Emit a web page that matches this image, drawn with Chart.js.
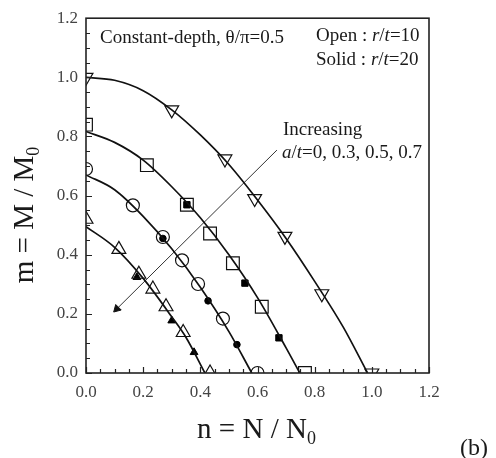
<!DOCTYPE html>
<html><head><meta charset="utf-8">
<script src="https://cdn.jsdelivr.net/npm/chart.js@4/dist/chart.umd.min.js"></script>
<style>html,body{margin:0;padding:0;background:#fff}#wrap{width:496px;height:458px;position:relative}</style>
</head><body><div id="wrap"><canvas id="c" width="496" height="458"></canvas></div>
<script>
// ---- data ----
// Solid fitted curves (n = N/N0, m = M/M0)
const nCurve0 = [0, 0.1, 0.2, 0.3, 0.4, 0.5, 0.6, 0.7, 0.8, 0.9, 0.985];
const mCurve0 = [1.0, 0.99, 0.955, 0.89, 0.805, 0.705, 0.585, 0.455, 0.31, 0.155, 0];
const nCurve3 = [0, 0.1, 0.2, 0.3, 0.4, 0.5, 0.6, 0.7, 0.748];
const mCurve3 = [0.817, 0.78, 0.72, 0.63, 0.525, 0.40, 0.255, 0.085, 0];
const nCurve5 = [0, 0.1, 0.2, 0.3, 0.4, 0.5, 0.58];
const mCurve5 = [0.67, 0.62, 0.53, 0.42, 0.29, 0.14, 0];
const nCurve7 = [0, 0.1, 0.2, 0.3, 0.35, 0.416];
const mCurve7 = [0.495, 0.425, 0.32, 0.19, 0.12, 0];
// Open symbols: r/t = 10
const nOpen0 = [0, 0.30, 0.486, 0.59, 0.696, 0.825, 1.0];
const mOpen0 = [1.0, 0.89, 0.724, 0.59, 0.462, 0.268, 0];
const nOpen3 = [0, 0.213, 0.353, 0.434, 0.514, 0.615, 0.766];
const mOpen3 = [0.84, 0.703, 0.569, 0.472, 0.371, 0.224, 0];
const nOpen5 = [0, 0.164, 0.269, 0.336, 0.392, 0.479, 0.60];
const mOpen5 = [0.69, 0.567, 0.46, 0.381, 0.301, 0.184, 0];
const nOpen7 = [0, 0.115, 0.185, 0.234, 0.28, 0.34, 0.434];
const mOpen7 = [0.52, 0.418, 0.334, 0.284, 0.224, 0.137, 0];
// Solid symbols: r/t = 20
const nSolid3 = [0.353, 0.556, 0.675];
const mSolid3 = [0.569, 0.304, 0.119];
const nSolid5 = [0.269, 0.427, 0.528];
const mSolid5 = [0.455, 0.244, 0.096];
const nSolid7 = [0.178, 0.30, 0.378];
const mSolid7 = [0.324, 0.177, 0.07];
// Arrow "Increasing a/t"
const nArrow = [0.668, 0.108];
const mArrow = [0.754, 0.217];
// Axes
const xMin = 0, xMax = 1.2, yMin = 0, yMax = 1.2;
const tickStep = 0.05, labelStep = 0.2;

// ---- chart ----
const FONT = '"Liberation Serif", "Times New Roman", serif';
const pts = (ns, ms) => ns.map((n, i) => ({x: n, y: ms[i]}));
const isMajor = v => Math.abs(v / labelStep - Math.round(v / labelStep)) < 1e-6;

function curve(ns, ms) {
  return {type: 'line', data: pts(ns, ms), showLine: true, borderColor: '#111', borderWidth: 1.7,
    pointRadius: 0, tension: 0.4, cubicInterpolationMode: 'monotone', fill: false};
}
function openSym(ns, ms, style, r, rot) {
  return {data: pts(ns, ms), showLine: false, pointStyle: style, pointRadius: r, pointRotation: rot || 0,
    borderColor: '#111', borderWidth: 1.2, backgroundColor: 'rgba(0,0,0,0)'};
}
function solidSym(ns, ms, style, r) {
  return {data: pts(ns, ms), showLine: false, pointStyle: style, pointRadius: r,
    borderColor: '#000', borderWidth: 1, backgroundColor: '#000'};
}

const frame = {
  id: 'frame',
  afterDatasetsDraw(chart) {
    const {ctx, chartArea: a, scales: {x, y}} = chart;
    ctx.save();
    ctx.strokeStyle = '#222';
    ctx.lineWidth = 1.2;
    ctx.beginPath();
    x.ticks.forEach(t => {
      const p = Math.round(x.getPixelForValue(t.value)) + 0.5;
      const len = isMajor(t.value) ? 6 : 4;
      ctx.moveTo(p, a.bottom); ctx.lineTo(p, a.bottom - len);
    });
    y.ticks.forEach(t => {
      const p = Math.round(y.getPixelForValue(t.value)) + 0.5;
      const len = isMajor(t.value) ? 6 : 4;
      ctx.moveTo(a.left, p); ctx.lineTo(a.left + len, p);
    });
    ctx.stroke();
    ctx.lineWidth = 1.6;
    ctx.strokeRect(a.left, a.top, a.right - a.left, a.bottom - a.top);
    ctx.restore();
  },
  afterDraw(chart) {
    const {ctx, chartArea: a} = chart;
    ctx.save();
    ctx.fillStyle = '#1a1a1a';
    ctx.textBaseline = 'alphabetic';
    const rich = (x0, y0, segs, size) => {
      let xx = x0;
      segs.forEach(s => {
        ctx.font = (s[1] ? 'italic ' : '') + size + 'px ' + FONT;
        ctx.fillText(s[0], xx, y0);
        xx += ctx.measureText(s[0]).width;
      });
    };
    rich(a.left + 14, a.top + 25, [['Constant-depth, θ/π=0.5', 0]], 19);
    rich(a.left + 230, a.top + 23, [['Open : ', 0], ['r', 1], ['/', 0], ['t', 1], ['=10', 0]], 19);
    rich(a.left + 230, a.top + 47, [['Solid : ', 0], ['r', 1], ['/', 0], ['t', 1], ['=20', 0]], 19);
    rich(a.left + 197, a.top + 117, [['Increasing', 0]], 19);
    rich(a.left + 196, a.top + 140, [['a', 1], ['/', 0], ['t', 1], ['=0, 0.3, 0.5, 0.7', 0]], 19);

    // axis titles with subscripts
    const title = (main, sub, size) => {
      ctx.font = size + 'px ' + FONT;
      const w1 = ctx.measureText(main).width;
      ctx.font = Math.round(size * 0.62) + 'px ' + FONT;
      const w2 = ctx.measureText(sub).width;
      const x0 = -(w1 + w2) / 2;
      ctx.font = size + 'px ' + FONT;
      ctx.fillText(main, x0, 0);
      ctx.font = Math.round(size * 0.62) + 'px ' + FONT;
      ctx.fillText(sub, x0 + w1, size * 0.22);
    };
    ctx.save();
    ctx.translate((a.left + a.right) / 2 - 1, 438);
    title('n = N / N', '0', 29);
    ctx.restore();
    ctx.save();
    ctx.translate(33, 215);
    ctx.rotate(-Math.PI / 2);
    title('m = M / M', '0', 29);
    ctx.restore();
    ctx.font = '24px ' + FONT;
    ctx.fillText('(b)', 460, 455);
    ctx.restore();
  }
};

const tickFont = {family: FONT, size: 17};
new Chart(document.getElementById('c'), {
  type: 'scatter',
  data: {datasets: [
    curve(nCurve0, mCurve0), curve(nCurve3, mCurve3), curve(nCurve5, mCurve5), curve(nCurve7, mCurve7),
    openSym(nOpen0, mOpen0, 'triangle', 8, 180),
    openSym(nOpen3, mOpen3, 'rect', 9),
    openSym(nOpen5, mOpen5, 'circle', 6.5),
    openSym(nOpen7, mOpen7, 'triangle', 8),
    solidSym(nSolid3, mSolid3, 'rect', 4.5),
    solidSym(nSolid5, mSolid5, 'circle', 3.3),
    solidSym(nSolid7, mSolid7, 'triangle', 4.5),
    {type: 'line', data: pts(nArrow, mArrow), showLine: true, borderColor: '#333', borderWidth: 1,
      pointRadius: [0, 4.5], pointStyle: 'triangle', pointRotation: 225,
      pointBackgroundColor: '#111', pointBorderColor: '#111', pointBorderWidth: 1, tension: 0}
  ]},
  options: {
    responsive: false, animation: false, devicePixelRatio: 1,
    layout: {padding: {top: 15, right: 67, left: 0, bottom: 0}},
    plugins: {legend: {display: false}, tooltip: {enabled: false}, title: {display: false}},
    scales: {
      x: {type: 'linear', min: xMin, max: xMax,
        grid: {display: false, drawTicks: false},
        border: {display: false},
        ticks: {stepSize: tickStep, autoSkip: false, maxRotation: 0, padding: 9, color: '#444', font: tickFont,
          callback: v => isMajor(v) ? v.toFixed(1) : ''},
        afterFit: s => { s.height = 85; }
      },
      y: {type: 'linear', min: yMin, max: yMax,
        grid: {display: false, drawTicks: false},
        border: {display: false},
        ticks: {stepSize: tickStep, autoSkip: false, padding: 8, color: '#444', font: tickFont,
          callback: v => isMajor(v) ? v.toFixed(1) : ''},
        afterFit: s => { s.width = 86; }
      }
    }
  },
  plugins: [frame]
});
</script>
</body></html>
